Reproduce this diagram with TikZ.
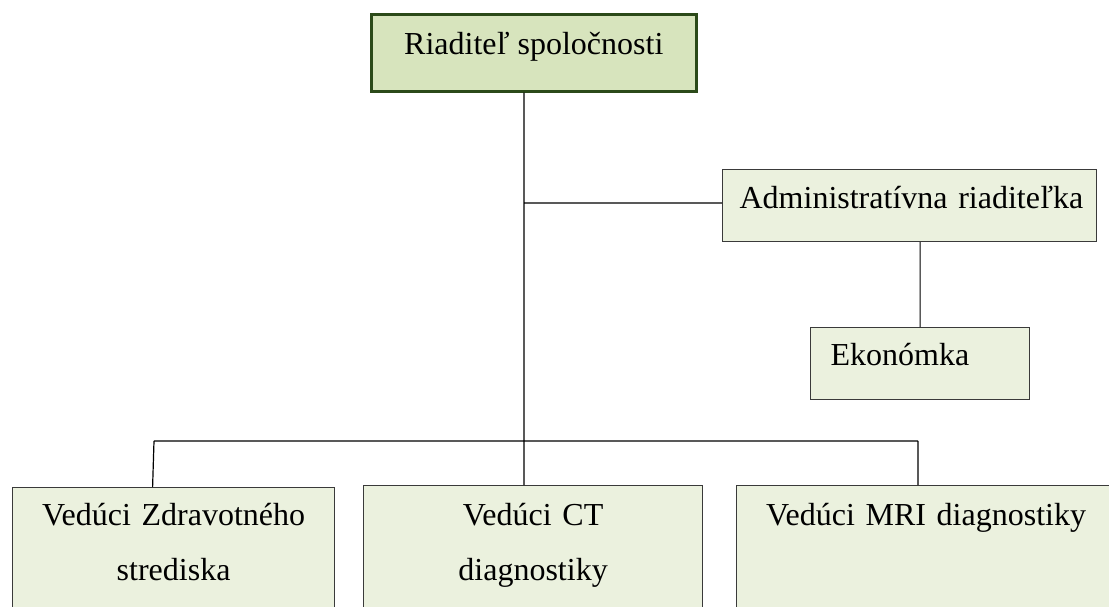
\documentclass[tikz,border=0pt]{standalone}
\usepackage{fontspec}
\setmainfont{Liberation Serif}
\definecolor{bossfill}{HTML}{D7E4BD}
\definecolor{bossline}{HTML}{2B4A19}
\definecolor{unitfill}{HTML}{EBF1DE}
\definecolor{unitline}{HTML}{3A3A3A}

\begin{document}
\begin{tikzpicture}[x=1pt, y=-1pt, semithick,
    unit/.style={draw=unitline, fill=unitfill, line width=1.2pt, inner sep=0pt, anchor=north west,
                 font=\fontsize{32}{55}\selectfont},
    boss/.style={unit, draw=bossline, fill=bossfill, line width=2.6pt},
    link/.style={draw=black, line width=1.2pt}]
    \useasboundingbox (0,0) rectangle (1109,607);
    \clip (0,0) rectangle (1109,607);

    \node[boss, minimum width=325pt, text height=40pt, text depth=37pt] (Riaditel) at (370,13) {Riaditeľ spoločnosti};
    \node[unit, text width=340pt, inner xsep=17pt, align=left, text height=39pt, text depth=33pt] (Admin) at (722,169) {\mbox{Administratívna riaditeľka}};
    \node[unit, text width=179pt, inner xsep=20pt, align=left, text height=38pt, text depth=34pt] (Ekonomka) at (810,327) {Ekonómka};
    \node[unit, text width=322pt, align=center, text height=38pt, text depth=87pt] (Zdrav) at (12,487) {Vedúci Zdravotného\\strediska};
    \node[unit, text width=339pt, align=center, text height=40pt, text depth=87pt] (CT) at (363,485) {Vedúci CT\\diagnostiky};
    \node[unit, text width=379pt, align=center, text height=40pt, text depth=87pt] (MRI) at (736,485) {Vedúci MRI diagnostiky};

    \coordinate (tee) at (524,203);
    \coordinate (busL) at (154,441);
    \coordinate (busR) at (918,441);

    \path[link]
    (Riaditel.south -| tee) -- (CT.north -| tee)
    (tee) -- (Admin.west |- tee)
    (Admin.south -| Ekonomka.north) -- (Ekonomka.north)
    (busL) -- (busR)
    (busL) -- ([xshift=-21pt]Zdrav.north)
    (busR) -- (MRI.north -| busR);
\end{tikzpicture}
\end{document}
